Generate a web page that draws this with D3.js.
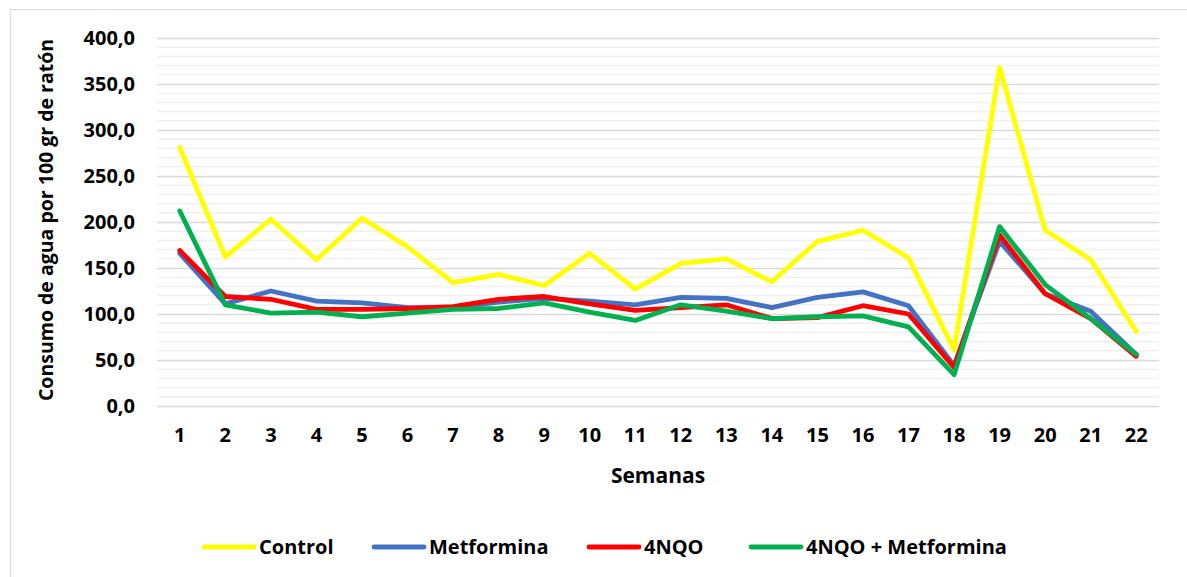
<!DOCTYPE html>
<html>
<head>
<meta charset="utf-8">
<script src="https://cdn.jsdelivr.net/npm/d3@7"></script>
<style>
  html, body { margin: 0; padding: 0; background: #fff; }
  svg { display: block; font-family: "Open Sans", "Noto Sans", sans-serif; }
</style>
</head>
<body>
<svg id="chart" width="1187" height="577"></svg>
<script>
// Weekly water intake per 100 g of body weight, by treatment group
const semanas = d3.range(1, 23).map(String);
const control     = [281, 162, 203, 159, 204, 173, 134, 143, 131, 166, 127, 155, 160, 135, 179, 191, 161, 61, 368, 191, 159, 81];
const metformina  = [166, 111, 125, 114, 112, 107, 107, 113, 117, 114, 110, 118, 117, 107, 118, 124, 109, 44, 179, 122, 103, 56];
const nqo         = [169, 119, 116, 105, 105, 106, 108, 116, 119, 111, 104, 107, 110, 95, 96, 109, 100, 42, 186, 122, 95, 54];
const nqoMet      = [212, 110, 101, 102, 97, 101, 105, 106, 112, 102, 93, 110, 103, 95, 97, 98, 86, 34, 195, 132, 95, 56];
const seriesNames = ["Control", "Metformina", "4NQO", "4NQO + Metformina"];
const yTicks = [0, 50, 100, 150, 200, 250, 300, 350, 400];

const series = [
  { name: seriesNames[0], values: control,    color: "#FFFF00" },
  { name: seriesNames[1], values: metformina, color: "#4472C4" },
  { name: seriesNames[2], values: nqo,        color: "#FF0000" },
  { name: seriesNames[3], values: nqoMet,     color: "#00B050" }
];

const svg = d3.select("#chart");
const plot = { left: 157, right: 1159, top: 38, bottom: 406 };

// outer frame
svg.append("rect")
  .attr("x", 10.5).attr("y", 9.5)
  .attr("width", 1200).attr("height", 600)
  .attr("fill", "none").attr("stroke", "#d9d9d9").attr("stroke-width", 1);

const x = d3.scaleBand().domain(semanas).range([plot.left, plot.right]);
const y = d3.scaleLinear().domain([0, 400]).range([plot.bottom, plot.top]);

// minor gridlines every 10
const g = svg.append("g");
g.selectAll("line.minor")
  .data(d3.range(0, 401, 10).filter(v => v % 50 !== 0))
  .join("line")
  .attr("class", "minor")
  .attr("x1", plot.left).attr("x2", plot.right)
  .attr("y1", d => y(d)).attr("y2", d => y(d))
  .attr("stroke", "#f0f0f0").attr("stroke-width", 1.5);

// major gridlines and y axis labels
const yAxis = d3.axisLeft(y)
  .tickValues(yTicks)
  .tickSize(-(plot.right - plot.left))
  .tickPadding(22)
  .tickFormat(d => d3.format(".1f")(d).replace(".", ","));

const ya = svg.append("g")
  .attr("transform", `translate(${plot.left},0)`)
  .call(yAxis);
ya.select(".domain").remove();
ya.selectAll(".tick line").attr("stroke", "#d9d9d9").attr("stroke-width", 1.5);
ya.selectAll(".tick text")
  .attr("font-family", "Open Sans, sans-serif")
  .attr("font-weight", 700).attr("font-size", 20).attr("fill", "#000");

// x axis labels
const xAxis = d3.axisBottom(x).tickSize(0).tickPadding(22);
const xa = svg.append("g")
  .attr("transform", `translate(0,${plot.bottom})`)
  .call(xAxis);
xa.select(".domain").remove();
xa.selectAll(".tick text")
  .attr("font-family", "Open Sans, sans-serif")
  .attr("font-weight", 700).attr("font-size", 20).attr("fill", "#000");

// axis titles
svg.append("text")
  .attr("x", 658).attr("y", 483)
  .attr("text-anchor", "middle")
  .attr("font-weight", 700).attr("font-size", 21)
  .text("Semanas");

svg.append("text")
  .attr("transform", "translate(53,220) rotate(-90)")
  .attr("text-anchor", "middle")
  .attr("font-weight", 700).attr("font-size", 19.5)
  .text("Consumo de agua por 100 gr de ratón");

// series lines
const line = d3.line()
  .x((d, i) => x(semanas[i]) + x.bandwidth() / 2)
  .y(d => y(d));

svg.append("g").selectAll("path")
  .data(series)
  .join("path")
  .attr("d", d => line(d.values))
  .attr("fill", "none")
  .attr("stroke", d => d.color)
  .attr("stroke-width", 4.8)
  .attr("stroke-linejoin", "round")
  .attr("stroke-linecap", "round");

// legend
const legendItems = [
  { x: 204 }, { x: 374 }, { x: 589 }, { x: 751 }
];
const lg = svg.append("g");
series.forEach((s, i) => {
  const lx = legendItems[i].x;
  lg.append("line")
    .attr("x1", lx).attr("x2", lx + 50)
    .attr("y1", 547).attr("y2", 547)
    .attr("stroke", s.color).attr("stroke-width", 4.8)
    .attr("stroke-linecap", "round");
  lg.append("text")
    .attr("x", lx + 55).attr("y", 547)
    .attr("dy", "0.35em")
    .attr("font-weight", 700).attr("font-size", 20)
    .text(s.name);
});
</script>
</body>
</html>
